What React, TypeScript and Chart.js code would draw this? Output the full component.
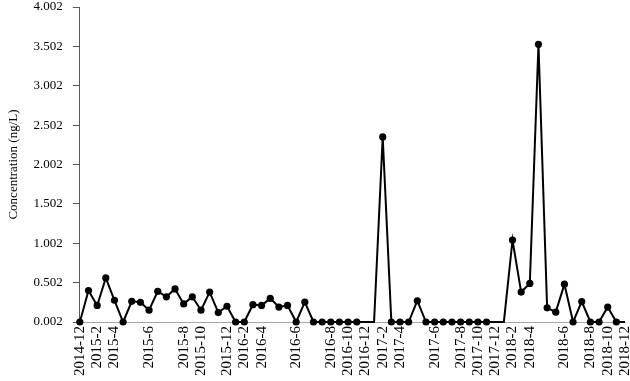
import { useEffect, useRef } from 'react';
import { Chart, registerables } from 'chart.js';

Chart.register(...registerables);

const categories = [
  '2014-12', '', '2015-2', '', '2015-4', '', '', '', '2015-6', '', '', '', '2015-8', '', '2015-10', '', '',
  '2015-12', '', '2016-2', '', '2016-4', '', '', '', '2016-6', '', '', '', '2016-8', '', '2016-10', '',
  '2016-12', '', '2017-2', '', '2017-4', '', '', '', '2017-6', '', '', '2017-8', '', '2017-10', '',
  '2017-12', '', '2018-2', '', '2018-4', '', '', '', '2018-6', '', '', '2018-8', '', '2018-10', '', '2018-12',
];

const concentration = [
  0.002, 0.402, 0.212, 0.562, 0.278, 0.002, 0.265, 0.252, 0.152, 0.392,
  0.322, 0.422, 0.232, 0.322, 0.152, 0.382, 0.122, 0.202, 0.002, 0.002,
  0.222, 0.212, 0.302, 0.192, 0.212, 0.002, 0.256, 0.002, 0.002, 0.002,
  0.002, 0.002, 0.002, 0.002, 0.002, 2.352, 0.002, 0.002, 0.002, 0.272,
  0.002, 0.002, 0.002, 0.002, 0.002, 0.002, 0.002, 0.002, 0.002, 0.002,
  1.042, 0.382, 0.492, 3.528, 0.182, 0.127, 0.482, 0.002, 0.262, 0.002,
  0.002, 0.192, 0.002, 0.002,
];

// indices drawn on the line without a marker
const noMarker = [33, 34, 48, 49, 63];

const yTicks = [0.002, 0.502, 1.002, 1.502, 2.002, 2.502, 3.002, 3.502, 4.002];

const FONT = "'Liberation Serif', 'Times New Roman', serif";

export default function App() {
  const ref = useRef<HTMLCanvasElement | null>(null);

  useEffect(() => {
    document.body.style.margin = '0';
    const ctx = ref.current;
    if (!ctx) return;
    const chart = new Chart(ctx, {
      type: 'line',
      data: {
        labels: categories,
        datasets: [
          {
            data: concentration,
            borderColor: '#000',
            backgroundColor: '#000',
            borderWidth: 2,
            pointRadius: (c: any) => (noMarker.includes(c.dataIndex) ? 0 : 3.6),
            pointBackgroundColor: '#000',
            pointBorderColor: '#000',
            pointBorderWidth: 0,
            tension: 0,
            clip: false as any,
          },
        ],
      },
      options: {
        animation: false,
        responsive: false,
        maintainAspectRatio: false,
        layout: { padding: { top: 0, right: 0, bottom: 1, left: 6 } },
        plugins: {
          legend: { display: false },
          tooltip: { enabled: false },
        },
        scales: {
          x: {
            type: 'category',
            offset: false,
            grid: { display: false, drawTicks: false },
            border: { display: true, color: '#a6a6a6', width: 1 },
            ticks: {
              autoSkip: false,
              maxRotation: 90,
              minRotation: 90,
              padding: 4,
              color: '#000',
              font: { family: FONT, size: 15 },
            },
            afterFit: (scale: any) => {
              scale.paddingRight = 5;
              scale.paddingLeft = 0;
            },
          },
          y: {
            min: 0.002,
            max: 4.002,
            afterBuildTicks: (scale: any) => {
              scale.ticks = yTicks.map((v) => ({ value: v }));
            },
            afterFit: (scale: any) => {
              scale.paddingTop = 7;
              scale.paddingBottom = 0;
            },
            grid: {
              drawOnChartArea: false,
              drawTicks: true,
              tickLength: 7,
              color: '#595959',
            },
            border: { display: true, color: '#595959', width: 1 },
            ticks: {
              padding: 10,
              color: '#000',
              font: { family: FONT, size: 13 },
              callback: (v: any) => Number(v).toFixed(3),
            },
            title: {
              display: true,
              text: 'Concentration (ng/L)',
              color: '#000',
              font: { family: FONT, size: 13 },
              padding: { top: 0, bottom: 2 },
            },
          },
        },
      },
    });
    return () => chart.destroy();
  }, []);

  return (
    <div style={{ width: 630, height: 381 }}>
      <canvas ref={ref} width={630} height={381} />
    </div>
  );
}
